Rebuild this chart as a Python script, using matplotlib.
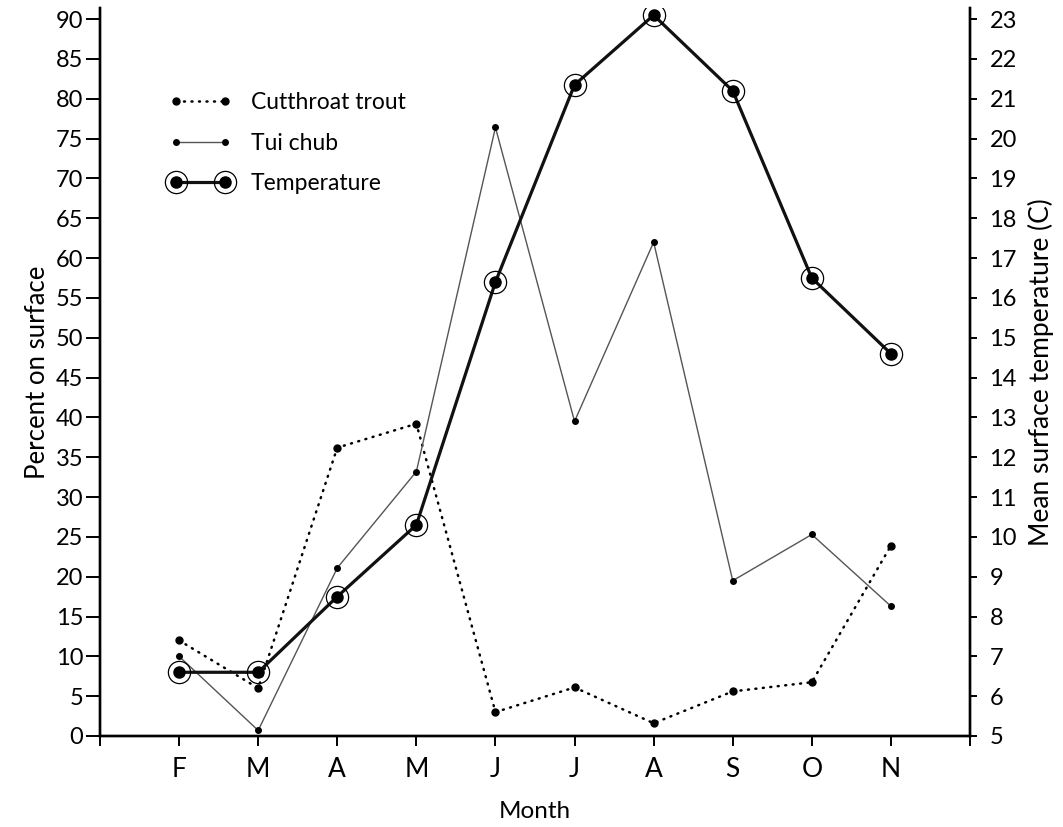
import matplotlib
matplotlib.use("Agg")
import matplotlib.pyplot as plt
from matplotlib.lines import Line2D
from matplotlib.legend_handler import HandlerTuple

plt.rcParams['font.family'] = ['Lato', 'DejaVu Sans']

months = ["F", "M", "A", "M", "J", "J", "A", "S", "O", "N"]
cutthroat = [12.0, 6.0, 36.2, 39.2, 3.0, 6.1, 1.6, 5.6, 6.75, 23.9]
tui_chub = [10.0, 0.7, 21.1, 33.2, 76.4, 39.5, 62.0, 19.5, 25.3, 16.3]
temperature = [6.6, 6.6, 8.5, 10.3, 16.4, 21.35, 23.1, 21.2, 16.5, 14.6]

x = list(range(len(months)))

fig = plt.figure(figsize=(10.63, 8.27), dpi=100)
ax = fig.add_axes([100/1063, 91/827, 870/1063, 728/827])
ax2 = ax.twinx()

ymax = 91.4
ax.set_ylim(0, ymax)
ax2.set_ylim(5, 5 + ymax/5)
ax.set_xlim(-1, 10)

dotted = (0, (0.4, 2.6))
# Cutthroat trout (dotted)
ax.plot(x, cutthroat, color='black', lw=1.8, linestyle=dotted,
        dash_capstyle='round', marker='o', ms=5, zorder=3)
# Tui chub (thin)
ax.plot(x, tui_chub, color='#555555', lw=1.0, marker='o', ms=4,
        mfc='black', mec='black', zorder=3)
# Temperature (thick, circled markers)
ax2.plot(x, temperature, color='#111111', lw=2.3, marker='o', ms=8,
         mfc='black', mec='black', zorder=4)
ax2.plot(x, temperature, linestyle='none', marker='o', ms=16, mfc='none',
         mec='black', mew=0.9, zorder=4)

ax.set_yticks(range(0, 91, 5))
ax2.set_yticks(range(5, 24))
ax.set_xticks(range(-1, 11))
ax.set_xticklabels([""] + months + [""])

for a in (ax, ax2):
    a.spines['top'].set_visible(False)
    a.spines['left'].set_linewidth(1.7)
    a.spines['right'].set_linewidth(1.7)
    a.spines['bottom'].set_linewidth(1.7)
ax.tick_params(axis='y', direction='out', length=10, width=1.4, labelsize=17, pad=2)
ax.tick_params(axis='x', direction='out', length=7, width=1.4, labelsize=19, pad=8)
ax2.tick_params(axis='y', direction='out', length=5, width=1.4, labelsize=17, pad=9)

ax.set_xlabel("Month", fontsize=17.5, labelpad=14)
ax.set_ylabel("Percent on surface", fontsize=18.5, labelpad=4)
ax2.set_ylabel("Mean surface temperature (C)", fontsize=19, labelpad=8)

h1 = Line2D([], [], color='black', lw=1.8, linestyle=dotted,
            dash_capstyle='round', marker='o', ms=5)
h2 = Line2D([], [], color='#555555', lw=1.0, marker='o', ms=4, mfc='black', mec='black')
h3a = Line2D([], [], color='#111111', lw=2.3, marker='o', ms=8, mfc='black', mec='black')
h3b = Line2D([], [], linestyle='none', marker='o', ms=16, mfc='none', mec='black', mew=0.9)
leg = ax.legend([h1, h2, (h3a, h3b)], ["Cutthroat trout", "Tui chub", "Temperature"],
                handler_map={tuple: HandlerTuple(ndivide=1, pad=0)},
                numpoints=2, loc='upper left', bbox_to_anchor=(0.080, 0.884),
                borderaxespad=0, borderpad=0,
                frameon=False, fontsize=16.5, handlelength=2.7, handletextpad=0.85,
                labelspacing=0.85)

fig.savefig("out.png", dpi=100)
